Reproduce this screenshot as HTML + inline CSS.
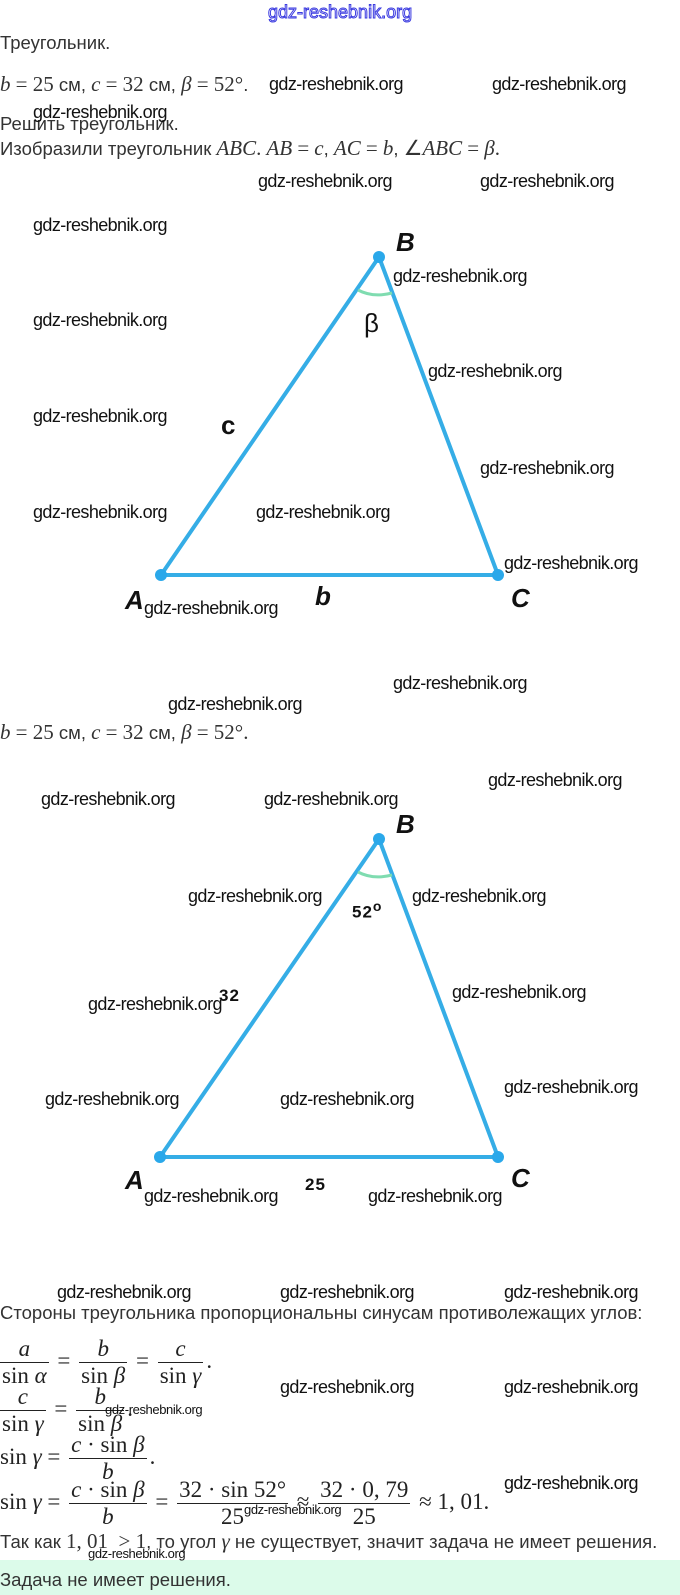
<!DOCTYPE html>
<html><head><meta charset="utf-8"><style>
body{margin:0;width:680px;height:1595px;position:relative;background:#fff;overflow:hidden;font-family:"Liberation Sans",sans-serif;color:#333}
.t{position:absolute;white-space:nowrap;font-size:18.5px;line-height:20px}
.w{position:absolute;white-space:nowrap;font-size:18px;line-height:20px;color:#111;letter-spacing:-0.6px}
.ws{position:absolute;white-space:nowrap;font-size:13px;line-height:14px;color:#111;letter-spacing:-0.4px}
.m{font-family:"Liberation Serif",serif;font-size:21px}
.i{font-style:italic}
.L{position:absolute;font-family:"Liberation Sans",sans-serif;font-weight:bold;font-style:italic;font-size:26px;color:#111;line-height:26px}
.fr{position:absolute;font-family:"Liberation Serif",serif;font-size:23px;color:#222;white-space:nowrap}
.f{display:inline-block;vertical-align:middle;text-align:center;margin:0 3px}
.f span{display:block;line-height:26px;padding:0 2px}
.f .n{border-bottom:1px solid #222}
</style></head><body>
<div class="t" style="left:268px;top:2px;color:#fff;-webkit-text-stroke:1px #3a3ae0;font-size:18px">gdz-reshebnik.org</div>

<div class="t" style="left:0;top:33px">Треугольник.</div>
<div class="t" style="left:0;top:74px"><span class="m i">b</span> <span class="m">= 25</span> см, <span class="m i">c</span> <span class="m">= 32</span> см, <span class="m i">β</span> <span class="m">= 52°</span>.</div>
<div class="t" style="left:0;top:114px">Решить треугольник.</div>
<div class="t" style="left:0;top:138px">Изобразили треугольник <span class="m i">ABC</span><span class="m">.</span> <span class="m i">AB</span> <span class="m">=</span> <span class="m i">c</span>, <span class="m i">AC</span> <span class="m">=</span> <span class="m i">b</span>, <span class="m">∠</span><span class="m i">ABC</span> <span class="m">=</span> <span class="m i">β</span><span class="m">.</span></div>

<svg style="position:absolute;left:0;top:0" width="680" height="1595">
<g stroke="#35ade6" stroke-width="4" fill="none" stroke-linejoin="round">
<polygon points="161,575 379,257 498,575"/>
<polygon points="160,1157 379,839 498,1157"/>
</g>
<g fill="#2aa8ea">
<circle cx="161" cy="575" r="6"/><circle cx="379" cy="257" r="6"/><circle cx="498" cy="575" r="6"/>
<circle cx="160" cy="1157" r="6"/><circle cx="379" cy="839" r="6"/><circle cx="498" cy="1157" r="6"/>
</g>
<path d="M358,290 Q373,298 392,293" stroke="#7fdcb0" stroke-width="3" fill="none"/>
<path d="M358,872 Q373,880 392,875" stroke="#7fdcb0" stroke-width="3" fill="none"/>
</svg>

<div class="L" style="left:396px;top:229px">B</div>
<div class="L" style="left:364px;top:310px;font-style:normal;font-weight:normal;font-size:26px">β</div>
<div class="L" style="left:221px;top:412px;font-style:normal">c</div>
<div class="L" style="left:125px;top:587px">A</div>
<div class="L" style="left:315px;top:583px">b</div>
<div class="L" style="left:511px;top:585px">C</div>

<div class="L" style="left:396px;top:811px">B</div>
<div class="L" style="left:352px;top:893px;font-style:normal;font-size:17px;letter-spacing:1px">52<sup style="font-size:14px;font-weight:bold">o</sup></div>
<div class="L" style="left:219px;top:983px;font-style:normal;font-size:17px;letter-spacing:1px">32</div>
<div class="L" style="left:125px;top:1167px">A</div>
<div class="L" style="left:305px;top:1172px;font-style:normal;font-size:17px;letter-spacing:1px">25</div>
<div class="L" style="left:511px;top:1165px">C</div>

<div class="t" style="left:0;top:722px"><span class="m i">b</span> <span class="m">= 25</span> см, <span class="m i">c</span> <span class="m">= 32</span> см, <span class="m i">β</span> <span class="m">= 52°</span><span class="m">.</span></div>

<div class="t" style="left:0;top:1303px">Стороны треугольника пропорциональны синусам противолежащих углов:</div>

<div class="fr" style="left:0;top:1336px"><span class="f" style="margin-left:0"><span class="n i">a</span><span>sin <i>α</i></span></span> = <span class="f"><span class="n i">b</span><span>sin <i>β</i></span></span> = <span class="f"><span class="n i">c</span><span>sin <i>γ</i></span></span>.</div>
<div class="fr" style="left:0;top:1384px"><span class="f" style="margin-left:0"><span class="n i">c</span><span>sin <i>γ</i></span></span> = <span class="f"><span class="n i">b</span><span>sin <i>β</i></span></span>.</div>
<div class="fr" style="left:0;top:1432px">sin <i>γ</i> = <span class="f"><span class="n"><i>c</i> · sin <i>β</i></span><span class="i">b</span></span>.</div>
<div class="fr" style="left:0;top:1477px">sin <i>γ</i> = <span class="f"><span class="n"><i>c</i> · sin <i>β</i></span><span class="i">b</span></span> = <span class="f"><span class="n">32 · sin 52°</span><span>25</span></span> ≈ <span class="f"><span class="n">32 · 0, 79</span><span>25</span></span> ≈ 1, 01.</div>

<div class="t" style="left:0;top:1531px">Так как <span class="m">1, 01 &nbsp;&gt; 1</span>, то угол <span class="m i">γ</span> не существует, значит задача не имеет решения.</div>
<div style="position:absolute;left:0;top:1560px;width:680px;height:35px;background:#dcfbea"></div>
<div class="t" style="left:0;top:1570px">Задача не имеет решения.</div>

<div class="w" style="left:269px;top:74px">gdz-reshebnik.org</div>
<div class="w" style="left:492px;top:74px">gdz-reshebnik.org</div>
<div class="w" style="left:33px;top:102px">gdz-reshebnik.org</div>
<div class="w" style="left:258px;top:171px">gdz-reshebnik.org</div>
<div class="w" style="left:480px;top:171px">gdz-reshebnik.org</div>
<div class="w" style="left:33px;top:215px">gdz-reshebnik.org</div>
<div class="w" style="left:393px;top:266px">gdz-reshebnik.org</div>
<div class="w" style="left:33px;top:310px">gdz-reshebnik.org</div>
<div class="w" style="left:428px;top:361px">gdz-reshebnik.org</div>
<div class="w" style="left:33px;top:406px">gdz-reshebnik.org</div>
<div class="w" style="left:480px;top:458px">gdz-reshebnik.org</div>
<div class="w" style="left:33px;top:502px">gdz-reshebnik.org</div>
<div class="w" style="left:256px;top:502px">gdz-reshebnik.org</div>
<div class="w" style="left:504px;top:553px">gdz-reshebnik.org</div>
<div class="w" style="left:144px;top:598px">gdz-reshebnik.org</div>
<div class="w" style="left:393px;top:673px">gdz-reshebnik.org</div>
<div class="w" style="left:168px;top:694px">gdz-reshebnik.org</div>
<div class="w" style="left:488px;top:770px">gdz-reshebnik.org</div>
<div class="w" style="left:41px;top:789px">gdz-reshebnik.org</div>
<div class="w" style="left:264px;top:789px">gdz-reshebnik.org</div>
<div class="w" style="left:188px;top:886px">gdz-reshebnik.org</div>
<div class="w" style="left:412px;top:886px">gdz-reshebnik.org</div>
<div class="w" style="left:452px;top:982px">gdz-reshebnik.org</div>
<div class="w" style="left:88px;top:994px">gdz-reshebnik.org</div>
<div class="w" style="left:45px;top:1089px">gdz-reshebnik.org</div>
<div class="w" style="left:280px;top:1089px">gdz-reshebnik.org</div>
<div class="w" style="left:504px;top:1077px">gdz-reshebnik.org</div>
<div class="w" style="left:144px;top:1186px">gdz-reshebnik.org</div>
<div class="w" style="left:368px;top:1186px">gdz-reshebnik.org</div>
<div class="w" style="left:57px;top:1282px">gdz-reshebnik.org</div>
<div class="w" style="left:280px;top:1282px">gdz-reshebnik.org</div>
<div class="w" style="left:504px;top:1282px">gdz-reshebnik.org</div>
<div class="w" style="left:280px;top:1377px">gdz-reshebnik.org</div>
<div class="w" style="left:504px;top:1377px">gdz-reshebnik.org</div>
<div class="ws" style="left:105px;top:1403px">gdz-reshebnik.org</div>
<div class="w" style="left:504px;top:1473px">gdz-reshebnik.org</div>
<div class="ws" style="left:244px;top:1503px">gdz-reshebnik.org</div>
<div class="ws" style="left:88px;top:1547px">gdz-reshebnik.org</div>
</body></html>
